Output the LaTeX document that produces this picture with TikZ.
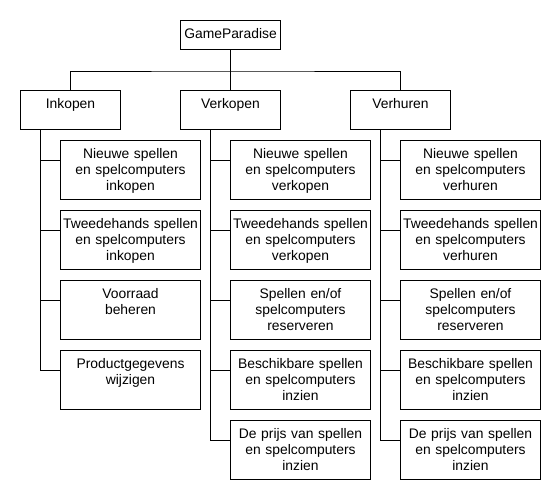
\documentclass[tikz,border=0pt]{standalone}
\usepackage{fontspec}
\setmainfont{Liberation Sans}

\begin{document}
\begin{tikzpicture}[x=0.75pt, y=-0.75pt, line width=0.75pt,
    box/.style={draw, inner sep=0pt, anchor=north west, align=center,
      text height=13.5pt, font=\fontsize{10.4}{12}\selectfont},
    rootbox/.style={box, text width=75pt, text depth=8.25pt},
    mainbox/.style={box, text width=75pt, text depth=15.75pt},
    taskbox/.style={box, text width=105pt, text depth=30.75pt}]
    \useasboundingbox (0,0) rectangle (560,500);

    \node[rootbox] (gp) at (180,20) {GameParadise};
    \node[mainbox] (ink) at (20,90) {Inkopen};
    \node[mainbox] (verk) at (180,90) {Verkopen};
    \node[mainbox] (verh) at (350,90) {Verhuren};

    \node[taskbox] (ink1) at (60,140) {Nieuwe spellen\\en spelcomputers\\inkopen};
    \node[taskbox] (ink2) at (60,210) {Tweedehands spellen\\en spelcomputers\\inkopen};
    \node[taskbox] (ink3) at (60,280) {Voorraad\\beheren};
    \node[taskbox] (ink4) at (60,350) {Productgegevens\\wijzigen};

    \node[taskbox] (verk1) at (230,140) {Nieuwe spellen\\en spelcomputers\\verkopen};
    \node[taskbox] (verk2) at (230,210) {Tweedehands spellen\\en spelcomputers\\verkopen};
    \node[taskbox] (verk3) at (230,280) {Spellen en/of\\spelcomputers\\reserveren};
    \node[taskbox] (verk4) at (230,350) {Beschikbare spellen\\en spelcomputers\\inzien};
    \node[taskbox] (verk5) at (230,420) {De prijs van spellen\\en spelcomputers\\inzien};

    \node[taskbox] (verh1) at (400,140) {Nieuwe spellen\\en spelcomputers\\verhuren};
    \node[taskbox] (verh2) at (400,210) {Tweedehands spellen\\en spelcomputers\\verhuren};
    \node[taskbox] (verh3) at (400,280) {Spellen en/of\\spelcomputers\\reserveren};
    \node[taskbox] (verh4) at (400,350) {Beschikbare spellen\\en spelcomputers\\inzien};
    \node[taskbox] (verh5) at (400,420) {De prijs van spellen\\en spelcomputers\\inzien};

    % top level
    \draw (gp.south) -- ++(0,21) coordinate (bus);
    \draw (ink.north) |- (bus) -| (verh.north);
    \draw (bus) -- (verk.north);

    % sub tasks, spine 20px left of the boxes
    \foreach \c in {ink1,ink2,ink3,ink4}
        \draw ([xshift=-15pt]ink1.north west |- ink.south) |- ([yshift=-15pt]\c.north west);
    \foreach \c in {verk1,verk2,verk3,verk4,verk5}
        \draw ([xshift=-15pt]verk1.north west |- verk.south) |- ([yshift=-15pt]\c.north west);
    \foreach \c in {verh1,verh2,verh3,verh4,verh5}
        \draw ([xshift=-15pt]verh1.north west |- verh.south) |- ([yshift=-15pt]\c.north west);
\end{tikzpicture}
\end{document}
